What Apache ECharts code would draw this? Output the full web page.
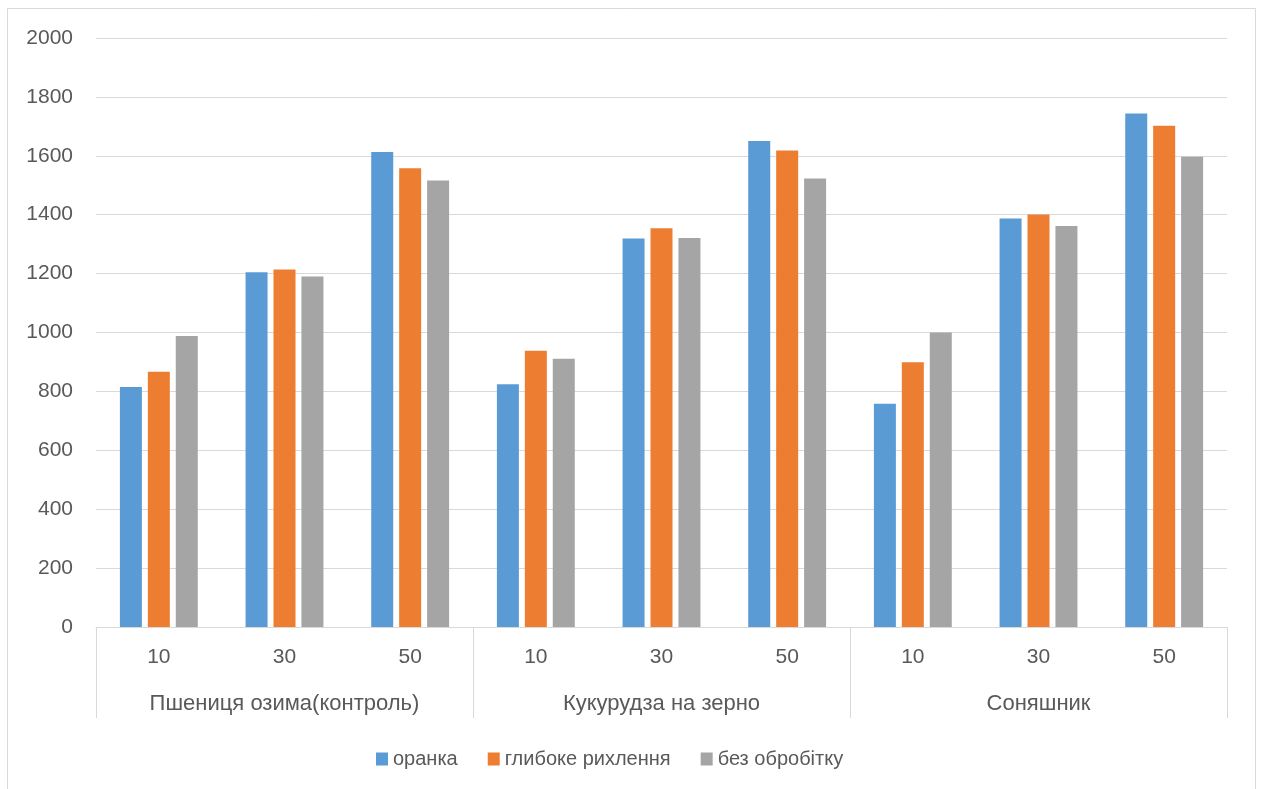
<!DOCTYPE html>
<html>
<head>
<meta charset="utf-8">
<script src="https://cdn.jsdelivr.net/npm/echarts@6/dist/echarts.min.js"></script>
<style>
  html, body { margin: 0; padding: 0; background: #fff; }
  #chart { width: 1261px; height: 789px; }
</style>
</head>
<body>
<div id="chart"></div>
<script>
// soil depth (cm) per crop, three crops
var depths = ['10', '30', '50', '10', '30', '50', '10', '30', '50'];
var crops = ['Пшениця озима(контроль)', 'Кукурудза на зерно', 'Соняшник'];
var seriesNames = ['оранка', 'глибоке рихлення', 'без обробітку'];
var orankaValues = [815, 1205, 1613, 824, 1319, 1650, 758, 1387, 1744];
var rykhlValues = [867, 1214, 1558, 938, 1354, 1618, 899, 1401, 1702];
var bezValues = [988, 1190, 1516, 911, 1321, 1523, 1000, 1362, 1597];
var colors = ['#5B9BD5', '#ED7D31', '#A5A5A5'];

var myChart = echarts.init(document.getElementById('chart'));
var font = 'Liberation Sans, Arial, sans-serif';
var textColor = '#595959';
var lineColor = '#d9d9d9';

var option = {
  color: colors,
  animation: false,
  textStyle: { fontFamily: font },
  grid: { left: 96, right: 34, top: 38, bottom: 162, containLabel: false },
  legend: {
    left: 371,
    top: 744,
    itemWidth: 12,
    itemHeight: 13,
    itemGap: 30,
    icon: 'rect',
    textStyle: { color: textColor, fontSize: 20, fontFamily: font },
    data: seriesNames
  },
  graphic: [{
    type: 'rect',
    shape: { x: 7.5, y: 8.5, width: 1248, height: 800 },
    style: { fill: 'none', stroke: lineColor, lineWidth: 1 },
    silent: true
  }],
  xAxis: [
    {
      type: 'category',
      data: depths,
      position: 'bottom',
      axisLine: { show: true, lineStyle: { color: lineColor, width: 1 } },
      axisTick: { show: false },
      axisLabel: { margin: 20, color: textColor, fontSize: 21, fontFamily: font }
    },
    {
      type: 'category',
      data: crops,
      position: 'bottom',
      axisLine: { show: false },
      axisTick: { show: true, length: 91, lineStyle: { color: lineColor, width: 1 } },
      axisLabel: { margin: 66, color: textColor, fontSize: 22, fontFamily: font }
    }
  ],
  yAxis: {
    type: 'value',
    min: 0,
    max: 2000,
    interval: 200,
    axisLine: { show: false },
    axisTick: { show: false },
    axisLabel: {
      margin: 23,
      color: textColor,
      fontSize: 21,
      fontFamily: font,
      formatter: function (v) { return String(v); }
    },
    splitLine: { lineStyle: { color: lineColor, width: 1 } }
  },
  series: [
    { name: seriesNames[0], type: 'bar', xAxisIndex: 0, barWidth: 22, barGap: '27%', data: orankaValues },
    { name: seriesNames[1], type: 'bar', xAxisIndex: 0, barWidth: 22, barGap: '27%', data: rykhlValues },
    { name: seriesNames[2], type: 'bar', xAxisIndex: 0, barWidth: 22, barGap: '27%', data: bezValues }
  ]
};
myChart.setOption(option);
</script>
</body>
</html>
